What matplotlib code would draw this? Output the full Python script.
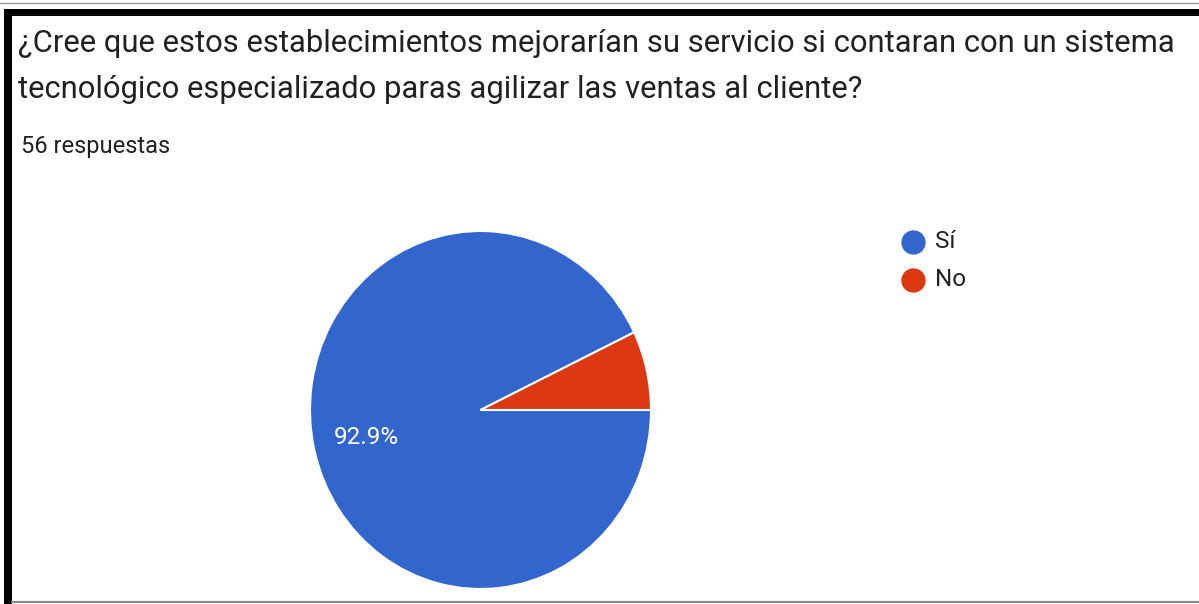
import matplotlib.pyplot as plt
from matplotlib.patches import Rectangle
from matplotlib.lines import Line2D

plt.rcParams['font.family'] = ['Roboto', 'DejaVu Sans']

# survey data
labels = ['Sí', 'No']
counts = [52, 4]
colors = ['#3366cc', '#dc3912']
title = '¿Cree que estos establecimientos mejorarían su servicio si contaran con un sistema\ntecnológico especializado paras agilizar las ventas al cliente?'
subtitle = '56 respuestas'

W, H = 1199, 604
fig = plt.figure(figsize=(W / 100, H / 100), dpi=100)
fig.patch.set_facecolor('white')

def fy(y):
    return 1 - y / H

# frame (screenshot border)
fig.patches.append(Rectangle((4 / W, fy(16)), 1 - 4 / W, fy(9) - fy(16), transform=fig.transFigure,
                             facecolor='black', edgecolor='none'))
fig.patches.append(Rectangle((4 / W, 0), 8 / W, fy(9), transform=fig.transFigure,
                             facecolor='black', edgecolor='none'))
fig.lines.append(Line2D([0, 1], [fy(2.5), fy(2.5)], transform=fig.transFigure, color='#999999', lw=1))
fig.lines.append(Line2D([12 / W, 1], [fy(601.5), fy(601.5)], transform=fig.transFigure, color='#888888', lw=1.5))

fig.text(18 / W, fy(43), title.split('\n')[0], fontsize=22.3, color='#202124', va='center', ha='left')
fig.text(18 / W, fy(90), title.split('\n')[1], fontsize=22.3, color='#202124', va='center', ha='left')
fig.text(21 / W, fy(146), subtitle, fontsize=17, color='#202124', va='center', ha='left')

# pie
cx, cy, rx, ry = 480.5, 410, 170.5, 179
ax = fig.add_axes([(cx - rx) / W, fy(cy + ry), 2 * rx / W, 2 * ry / H])
ax.pie(counts, colors=colors, startangle=0, counterclock=False,
       autopct=lambda p: f'{p:.1f}%' if p > 10 else '', pctdistance=0.686,
       wedgeprops=dict(edgecolor='white', linewidth=1.5),
       textprops=dict(color='white', fontsize=17.5))
ax.set_aspect('auto')
ax.set_xlim(-1, 1)
ax.set_ylim(-1, 1)
ax.axis('off')

# legend
lx = 913
for i, (lab, col) in enumerate(zip(labels, colors)):
    y = 242 + 38 * i
    fig.lines.append(Line2D([lx / W], [fy(y)], transform=fig.transFigure, marker='o',
                            markersize=16.5, color=col, linestyle='none'))
    fig.text(935 / W, fy(y), lab, fontsize=17.5, color='#222222', va='center', ha='left')

fig.savefig('out.png', dpi=100)
